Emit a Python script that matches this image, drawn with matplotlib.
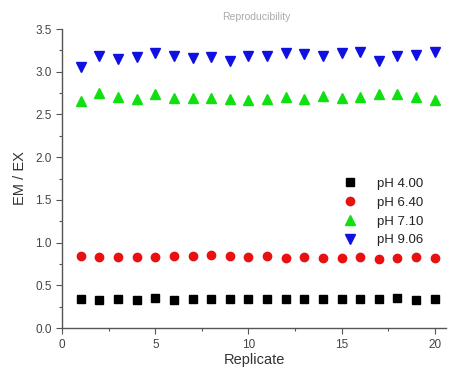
import matplotlib.pyplot as plt
from matplotlib.ticker import MultipleLocator

replicate = list(range(1, 21))

ph_400 = [0.34, 0.33, 0.34, 0.33, 0.35, 0.33, 0.34, 0.34, 0.34, 0.34,
          0.34, 0.34, 0.34, 0.34, 0.34, 0.34, 0.34, 0.35, 0.33, 0.34]
ph_640 = [0.84, 0.83, 0.83, 0.83, 0.83, 0.84, 0.84, 0.85, 0.84, 0.83,
          0.84, 0.82, 0.83, 0.82, 0.82, 0.83, 0.81, 0.82, 0.83, 0.82]
ph_710 = [2.66, 2.755, 2.71, 2.68, 2.74, 2.69, 2.69, 2.69, 2.68, 2.67,
          2.68, 2.71, 2.68, 2.72, 2.69, 2.71, 2.74, 2.74, 2.71, 2.67]
ph_906 = [3.06, 3.185, 3.15, 3.17, 3.22, 3.19, 3.16, 3.17, 3.12, 3.185,
          3.185, 3.22, 3.21, 3.185, 3.22, 3.23, 3.13, 3.19, 3.2, 3.23]

labels = ['pH 4.00', 'pH 6.40', 'pH 7.10', 'pH 9.06']

plt.rcParams['font.family'] = ['Liberation Sans', 'DejaVu Sans']

fig = plt.figure(figsize=(4.54, 3.72), dpi=100)
ax = fig.add_axes([0.137, 0.118, 0.845, 0.804])

ax.plot(replicate, ph_400, 's', color='black', ms=5.5, label=labels[0])
ax.plot(replicate, ph_640, 'o', color='#e81010', ms=6, label=labels[1])
ax.plot(replicate, ph_710, '^', color='#10e010', ms=6.5, label=labels[2])
ax.plot(replicate, ph_906, 'v', color='#1010e0', ms=6.5, label=labels[3])

ax.set_xlim(0, 20.6)
ax.set_ylim(0, 3.5)
ax.xaxis.set_major_locator(MultipleLocator(5))
ax.xaxis.set_minor_locator(MultipleLocator(2.5))
ax.yaxis.set_major_locator(MultipleLocator(0.5))
ax.yaxis.set_minor_locator(MultipleLocator(0.25))
ax.yaxis.set_major_formatter(plt.FormatStrFormatter('%.1f'))

for s in ['top', 'right']:
    ax.spines[s].set_visible(False)
for s in ['left', 'bottom']:
    ax.spines[s].set_color('#555555')
    ax.spines[s].set_linewidth(1.0)

ax.tick_params(which='major', length=4, width=0.8, color='#555555',
               labelsize=8.5, labelcolor='#444444')
ax.tick_params(which='minor', length=2.5, width=0.8, color='#555555')

ax.set_xlabel('Replicate', fontsize=10.5, color='#333333', labelpad=2)
ax.set_ylabel('EM / EX', fontsize=10.5, color='#333333', labelpad=6)

fig.text(0.565, 0.955, 'Reproducibility', fontsize=7.5, color='#aaaaaa',
         ha='center', va='center')

ax.legend(loc='upper left', bbox_to_anchor=(0.715, 0.525), frameon=False,
          fontsize=9.5, handletextpad=1.6, labelspacing=0.5, borderpad=0,
          handlelength=1.0, labelcolor='#222222')

fig.savefig('out.png', dpi=100)
